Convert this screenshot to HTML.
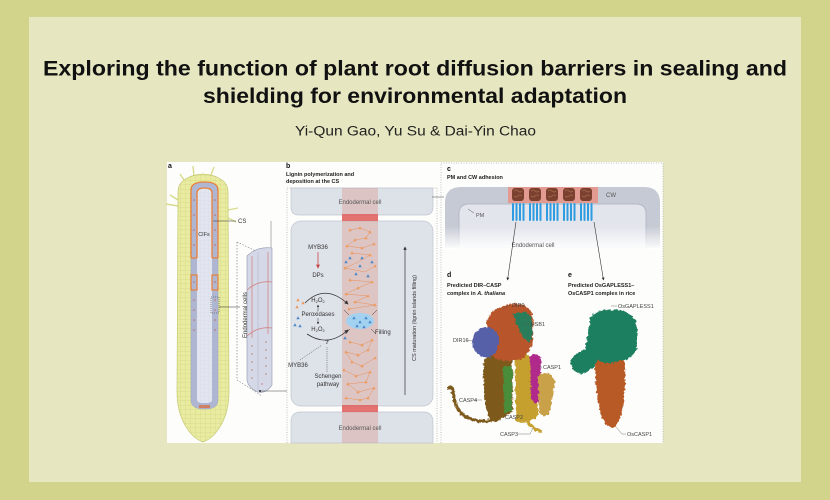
<!DOCTYPE html>
<html><head><meta charset="utf-8"><style>
html,body{margin:0;padding:0;background:#d3d48c;}
svg{display:block}
</style></head><body>
<svg width="830" height="500" viewBox="0 0 830 500" xmlns="http://www.w3.org/2000/svg" font-family="Liberation Sans, Arial, sans-serif">
<defs>
 <pattern id="grid" width="5" height="4.5" patternUnits="userSpaceOnUse">
   <rect width="5" height="4.5" fill="#e8eba0"/>
   <path d="M0,0H5M0,0V4.5" stroke="#cdd078" stroke-width="0.5"/>
 </pattern>
 <pattern id="sgrid" width="4" height="4" patternUnits="userSpaceOnUse">
   <rect width="4" height="4" fill="#e2e5f0"/>
   <path d="M0,0H4M0,0V4" stroke="#d0d4e2" stroke-width="0.4"/>
 </pattern>
 <linearGradient id="fade" x1="0" y1="0" x2="0" y2="1">
   <stop offset="0" stop-color="#ffffff" stop-opacity="0"/><stop offset="1" stop-color="#ffffff" stop-opacity="1"/>
 </linearGradient>
 <filter id="rough" x="-10%" y="-10%" width="120%" height="120%">
   <feTurbulence type="fractalNoise" baseFrequency="0.35" numOctaves="2" seed="3" result="n"/>
   <feDisplacementMap in="SourceGraphic" in2="n" scale="4" xChannelSelector="R" yChannelSelector="G"/>
 </filter>
 <marker id="ah" viewBox="0 0 6 6" refX="5" refY="3" markerWidth="5" markerHeight="5" orient="auto">
   <path d="M0,0 L6,3 L0,6 Z" fill="#333"/>
 </marker>
 <marker id="ahr" viewBox="0 0 6 6" refX="5" refY="3" markerWidth="5" markerHeight="5" orient="auto">
   <path d="M0,0 L6,3 L0,6 Z" fill="#c84545"/>
 </marker>
 <path id="tri" d="M0,-1.8 L1.7,1.2 L-1.7,1.2 Z"/>
</defs>

<rect width="830" height="500" fill="#d3d48c"/>
<rect x="29" y="17" width="772" height="465" fill="#e6e6c0"/>

<text x="43" y="75.5" font-size="21" font-weight="bold" fill="#111" textLength="744" lengthAdjust="spacingAndGlyphs">Exploring the function of plant root diffusion barriers in sealing and</text>
<text x="203" y="103" font-size="21" font-weight="bold" fill="#111" textLength="424" lengthAdjust="spacingAndGlyphs">shielding for environmental adaptation</text>
<text x="295" y="135.5" font-size="13.5" fill="#222" textLength="241" lengthAdjust="spacingAndGlyphs">Yi-Qun Gao, Yu Su &amp; Dai-Yin Chao</text>

<!-- figure -->
<rect x="167" y="162" width="496" height="281" fill="#fdfdfc"/>

<!-- panel a -->
<text x="168" y="168" font-size="7" font-weight="bold" fill="#111">a</text>
<path d="M178,206 L166,204 M178,200 L170,195 M228,210 L238,208 M228,218 L236,222 M194,176 L193,166 M211,175 L214,167 M184,180 L180,174" stroke="#d8db8c" stroke-width="1.4" fill="none"/>
<path d="M178,192 C178,180 190,175 203,174 C216,175 228,180 228,192 L229,392 C229,420 215,438 203,442 C191,438 177,420 177,392 Z" fill="url(#grid)" stroke="#c4c870" stroke-width="0.7"/>
<path d="M191,190 C191,184 196,182 204.5,182 C213,182 218,184 218,190 L218,400 C218,406 214,409 204.5,409 C195,409 191,406 191,400 Z" fill="#aeb6d2" stroke="#9aa2c0" stroke-width="0.5"/>
<path d="M197,193 Q197,188 204.5,188 Q212,188 212,193 L212,400 Q212,403 204.5,403 Q197,403 197,400 Z" fill="url(#sgrid)"/>
<path d="M191,258 L191,190 C191,184 196,182 204.5,182 C213,182 218,184 218,190 L218,258 M197,258 L197,193 Q197,188 204.5,188 Q212,188 212,193 L212,258 M191,258 H197 M212,258 H218" stroke="#e8803a" stroke-width="1.3" fill="none"/>
<rect x="191" y="275" width="6" height="15" fill="none" stroke="#e8803a" stroke-width="1.2"/>
<rect x="212" y="275" width="6" height="15" fill="none" stroke="#e8803a" stroke-width="1.2"/>
<rect x="199" y="405" width="11" height="3" fill="#d08060"/>
<g fill="#c06a6a">
 <circle cx="194" cy="200" r="0.8"/><circle cx="194" cy="215" r="0.8"/><circle cx="194" cy="230" r="0.8"/><circle cx="194" cy="245" r="0.8"/><circle cx="194" cy="282" r="0.8"/><circle cx="194" cy="300" r="0.8"/><circle cx="194" cy="310" r="0.8"/><circle cx="194" cy="320" r="0.8"/><circle cx="194" cy="330" r="0.8"/>
 <circle cx="215" cy="200" r="0.8"/><circle cx="215" cy="215" r="0.8"/><circle cx="215" cy="230" r="0.8"/><circle cx="215" cy="245" r="0.8"/><circle cx="215" cy="282" r="0.8"/><circle cx="215" cy="300" r="0.8"/><circle cx="215" cy="310" r="0.8"/><circle cx="215" cy="320" r="0.8"/><circle cx="215" cy="330" r="0.8"/>
</g>
<text x="204" y="236" font-size="5.5" fill="#333" text-anchor="middle">CIFs</text>
<line x1="213" y1="221" x2="236" y2="221" stroke="#333" stroke-width="0.5"/>
<text x="238" y="223" font-size="6" fill="#333">CS</text>
<rect x="211" y="297" width="8" height="16" fill="none" stroke="#333" stroke-width="0.5" stroke-dasharray="1,1"/>
<line x1="219" y1="307" x2="240" y2="307" stroke="#333" stroke-width="0.5"/>
<path d="M237,242 L237,380 L262,396 M237,242 L258,252" stroke="#555" stroke-width="0.5" stroke-dasharray="1.5,1.5" fill="none"/>
<line x1="271" y1="221" x2="271" y2="248" stroke="#666" stroke-width="0.5"/>
<path d="M247,256 Q257,246 272,248 L272,385 Q266,394 258,392 Q248,388 247,380 Z" fill="#d5d9e7" stroke="#8f96ae" stroke-width="0.6"/>
<line x1="258" y1="252" x2="258" y2="391" stroke="#b0b6c8" stroke-width="0.6"/>
<path d="M247,290 Q258,280 272,282 M247,336 Q258,326 272,328 M252,256 V338 M268,252 V334" stroke="#d08585" stroke-width="0.8" fill="none"/>
<g fill="#c07070">
 <circle cx="252" cy="346" r="0.7"/><circle cx="252" cy="354" r="0.7"/><circle cx="252" cy="362" r="0.7"/><circle cx="252" cy="370" r="0.7"/><circle cx="252" cy="378" r="0.7"/>
 <circle cx="266" cy="342" r="0.7"/><circle cx="266" cy="350" r="0.7"/><circle cx="266" cy="358" r="0.7"/><circle cx="266" cy="366" r="0.7"/><circle cx="266" cy="374" r="0.7"/><circle cx="262" cy="384" r="0.7"/>
</g>
<text x="247" y="315" font-size="6" fill="#333" text-anchor="middle" transform="rotate(-90 247 315)">Endodermal cells</text>
<line x1="260" y1="391" x2="287" y2="391" stroke="#444" stroke-width="0.5"/>
<circle cx="260" cy="391" r="1" fill="#222"/>

<!-- panel b -->
<text x="286" y="168" font-size="7" font-weight="bold" fill="#111">b</text>
<text x="286" y="176" font-size="5.5" font-weight="bold" fill="#222">Lignin polymerization and</text>
<text x="286" y="183" font-size="5.5" font-weight="bold" fill="#222">deposition at the CS</text>
<path d="M287,443 V188 H437 V443" stroke="#aaa" stroke-width="0.7" stroke-dasharray="1,1.5" fill="none"/>
<path d="M291,188 H433 V207 Q433,215 425,215 H299 Q291,215 291,207 Z" fill="#dde1e8" stroke="#c0c5cf" stroke-width="0.7"/>
<rect x="291" y="221" width="142" height="185" rx="10" fill="#dee2e9" stroke="#c0c5cf" stroke-width="0.7"/>
<path d="M291,443 V422 Q291,412 301,412 H423 Q433,412 433,422 V443 Z" fill="#dde1e8" stroke="#c0c5cf" stroke-width="0.7"/>
<rect x="342" y="188" width="36" height="255" fill="#d9806f" opacity="0.3"/>
<rect x="342" y="214" width="36" height="7" fill="#e06060" opacity="0.85"/>
<rect x="342" y="405" width="36" height="7" fill="#e06060" opacity="0.85"/>
<text x="360" y="204" font-size="6" fill="#555" text-anchor="middle">Endodermal cell</text>
<text x="360" y="430" font-size="6" fill="#555" text-anchor="middle">Endodermal cell</text>

<g stroke="#e8915a" stroke-width="0.5" fill="none">
 <polyline points="350,230 360,228 370,232 366,238 355,240 347,246 362,248 374,244"/>
 <polyline points="352,253 370,255 358,262 345,268 365,272 375,266"/>
 <polyline points="350,280 372,282 358,288 346,294 368,296 355,302 375,305 349,309"/>
 <polyline points="350,342 362,345 372,340 368,350 358,355 346,352 352,362 362,366 375,358"/>
 <polyline points="344,370 356,376 370,372 366,382 348,384 358,392 374,388 368,398 360,400 346,398"/>
</g>
<g fill="#ee9a5c">
 <use href="#tri" x="350" y="230"/><use href="#tri" x="360" y="228"/><use href="#tri" x="370" y="232"/><use href="#tri" x="366" y="238"/><use href="#tri" x="355" y="240"/><use href="#tri" x="347" y="246"/><use href="#tri" x="374" y="244"/><use href="#tri" x="362" y="248"/><use href="#tri" x="352" y="253"/><use href="#tri" x="370" y="255"/><use href="#tri" x="345" y="268"/><use href="#tri" x="375" y="266"/><use href="#tri" x="350" y="280"/><use href="#tri" x="372" y="282"/><use href="#tri" x="358" y="288"/><use href="#tri" x="346" y="294"/><use href="#tri" x="368" y="296"/><use href="#tri" x="355" y="302"/><use href="#tri" x="375" y="305"/><use href="#tri" x="349" y="309"/>
 <use href="#tri" x="350" y="342"/><use href="#tri" x="362" y="345"/><use href="#tri" x="372" y="340"/><use href="#tri" x="346" y="352"/><use href="#tri" x="358" y="355"/><use href="#tri" x="368" y="350"/><use href="#tri" x="375" y="358"/><use href="#tri" x="352" y="362"/><use href="#tri" x="362" y="366"/><use href="#tri" x="344" y="370"/><use href="#tri" x="370" y="372"/><use href="#tri" x="356" y="376"/><use href="#tri" x="366" y="382"/><use href="#tri" x="348" y="384"/><use href="#tri" x="374" y="388"/><use href="#tri" x="358" y="392"/><use href="#tri" x="346" y="398"/><use href="#tri" x="368" y="398"/><use href="#tri" x="360" y="400"/>
 <use href="#tri" x="298" y="300"/><use href="#tri" x="297" y="307"/><use href="#tri" x="303" y="303"/>
</g>
<ellipse cx="360" cy="321" rx="14" ry="8" fill="#9fd3f2" opacity="0.95"/>
<g fill="#4a88c8">
 <use href="#tri" x="350" y="258"/><use href="#tri" x="360" y="266"/><use href="#tri" x="356" y="274"/><use href="#tri" x="368" y="276"/><use href="#tri" x="346" y="262"/><use href="#tri" x="372" y="262"/><use href="#tri" x="362" y="258"/>
 <use href="#tri" x="354" y="318"/><use href="#tri" x="360" y="322"/><use href="#tri" x="366" y="318"/><use href="#tri" x="357" y="326"/><use href="#tri" x="364" y="327"/><use href="#tri" x="370" y="322"/>
 <use href="#tri" x="345" y="338"/><use href="#tri" x="298" y="318"/><use href="#tri" x="300" y="326"/><use href="#tri" x="295" y="325"/>
</g>
<g stroke="#333" stroke-width="0.5">
 <line x1="344" y1="310" x2="349" y2="315"/><line x1="377" y1="310" x2="372" y2="315"/><line x1="345" y1="334" x2="350" y2="329"/><line x1="376" y1="334" x2="371" y2="329"/>
</g>
<g font-size="6" fill="#333" text-anchor="middle">
 <text x="318" y="249">MYB36</text>
 <text x="318" y="277">DPs</text>
 <text x="318" y="302">H<tspan font-size="4" dy="1">2</tspan><tspan dy="-1">O</tspan><tspan font-size="4" dy="1">2</tspan></text>
 <text x="318" y="316">Peroxidases</text>
 <text x="318" y="331">H<tspan font-size="4" dy="1">2</tspan><tspan dy="-1">O</tspan><tspan font-size="4" dy="1">2</tspan></text>
 <text x="327" y="344" font-weight="bold">?</text>
 <text x="298" y="367">MYB36</text>
 <text x="328" y="378">Schengen</text>
 <text x="328" y="386">pathway</text>
</g>
<text x="375" y="334" font-size="6" fill="#333">Filling</text>
<line x1="318" y1="252" x2="318" y2="268" stroke="#c84545" stroke-width="0.8" marker-end="url(#ahr)"/>
<line x1="318" y1="311" x2="318" y2="305" stroke="#333" stroke-width="0.5" marker-end="url(#ah)"/>
<line x1="318" y1="318" x2="318" y2="324" stroke="#333" stroke-width="0.5" marker-end="url(#ah)"/>
<path d="M305,303 Q325,283 348,304" stroke="#333" stroke-width="0.8" fill="none" marker-end="url(#ah)"/>
<path d="M307,334 Q328,348 348,330" stroke="#333" stroke-width="0.8" fill="none" marker-end="url(#ah)"/>
<path d="M300,360 L322,345 M327,372 L327,347" stroke="#444" stroke-width="0.5" stroke-dasharray="1.2,1" fill="none"/>
<line x1="405" y1="395" x2="405" y2="247" stroke="#333" stroke-width="0.7" marker-end="url(#ah)"/>
<text x="416" y="318" font-size="5.5" fill="#333" text-anchor="middle" transform="rotate(-90 416 318)">CS maturation (lignin islands filling)</text>
<line x1="432" y1="197" x2="444" y2="197" stroke="#444" stroke-width="0.5"/>

<!-- panel c -->
<path d="M441,443 V163 H663 V443" stroke="#aaa" stroke-width="0.7" stroke-dasharray="1,1.5" fill="none"/>
<text x="447" y="171" font-size="7" font-weight="bold" fill="#111">c</text>
<text x="447" y="179" font-size="5.5" font-weight="bold" fill="#222">PM and CW adhesion</text>
<path d="M445,248 V203 Q445,187 461,187 H644 Q660,187 660,203 V248 Z" fill="#c6cad4"/>
<path d="M459,248 V214 Q459,204 469,204 H636 Q646,204 646,214 V248 Z" fill="#e3e5ec" stroke="#b4b9c5" stroke-width="1"/>
<rect x="443" y="226" width="219" height="24" fill="url(#fade)"/>
<rect x="508" y="187" width="90" height="16" fill="#e39a90"/>
<g>
 <g transform="translate(518,0)"><rect x="-6" y="188" width="12" height="13" rx="3" fill="#7a4030"/><path d="M-4,191 q2,-2 4,0 q2,2 4,0 M-4,196 q2,2 4,0 q2,-2 4,0" stroke="#b07050" stroke-width="0.6" fill="none"/><rect x="-6" y="203" width="2" height="18" rx="1" fill="#2f9be0"/><rect x="-2.5" y="203" width="2" height="18" rx="1" fill="#2f9be0"/><rect x="1" y="203" width="2" height="18" rx="1" fill="#2f9be0"/><rect x="4.5" y="203" width="2" height="18" rx="1" fill="#2f9be0"/></g>
 <g transform="translate(535,0)"><rect x="-6" y="188" width="12" height="13" rx="3" fill="#7a4030"/><path d="M-4,191 q2,-2 4,0 q2,2 4,0 M-4,196 q2,2 4,0 q2,-2 4,0" stroke="#b07050" stroke-width="0.6" fill="none"/><rect x="-6" y="203" width="2" height="18" rx="1" fill="#2f9be0"/><rect x="-2.5" y="203" width="2" height="18" rx="1" fill="#2f9be0"/><rect x="1" y="203" width="2" height="18" rx="1" fill="#2f9be0"/><rect x="4.5" y="203" width="2" height="18" rx="1" fill="#2f9be0"/></g>
 <g transform="translate(552,0)"><rect x="-6" y="188" width="12" height="13" rx="3" fill="#7a4030"/><path d="M-4,191 q2,-2 4,0 q2,2 4,0 M-4,196 q2,2 4,0 q2,-2 4,0" stroke="#b07050" stroke-width="0.6" fill="none"/><rect x="-6" y="203" width="2" height="18" rx="1" fill="#2f9be0"/><rect x="-2.5" y="203" width="2" height="18" rx="1" fill="#2f9be0"/><rect x="1" y="203" width="2" height="18" rx="1" fill="#2f9be0"/><rect x="4.5" y="203" width="2" height="18" rx="1" fill="#2f9be0"/></g>
 <g transform="translate(569,0)"><rect x="-6" y="188" width="12" height="13" rx="3" fill="#7a4030"/><path d="M-4,191 q2,-2 4,0 q2,2 4,0 M-4,196 q2,2 4,0 q2,-2 4,0" stroke="#b07050" stroke-width="0.6" fill="none"/><rect x="-6" y="203" width="2" height="18" rx="1" fill="#2f9be0"/><rect x="-2.5" y="203" width="2" height="18" rx="1" fill="#2f9be0"/><rect x="1" y="203" width="2" height="18" rx="1" fill="#2f9be0"/><rect x="4.5" y="203" width="2" height="18" rx="1" fill="#2f9be0"/></g>
 <g transform="translate(586,0)"><rect x="-6" y="188" width="12" height="13" rx="3" fill="#7a4030"/><path d="M-4,191 q2,-2 4,0 q2,2 4,0 M-4,196 q2,2 4,0 q2,-2 4,0" stroke="#b07050" stroke-width="0.6" fill="none"/><rect x="-6" y="203" width="2" height="18" rx="1" fill="#2f9be0"/><rect x="-2.5" y="203" width="2" height="18" rx="1" fill="#2f9be0"/><rect x="1" y="203" width="2" height="18" rx="1" fill="#2f9be0"/><rect x="4.5" y="203" width="2" height="18" rx="1" fill="#2f9be0"/></g>
</g>
<text x="606" y="197" font-size="6" fill="#555">CW</text>
<line x1="468" y1="209" x2="474" y2="213" stroke="#555" stroke-width="0.5"/>
<text x="476" y="217" font-size="5.5" fill="#555">PM</text>
<text x="533" y="247" font-size="6" fill="#555" text-anchor="middle">Endodermal cell</text>
<line x1="516" y1="222" x2="507.5" y2="280" stroke="#333" stroke-width="0.6" marker-end="url(#ah)"/>
<line x1="594" y1="222" x2="603.5" y2="280" stroke="#333" stroke-width="0.6" marker-end="url(#ah)"/>

<!-- panel d -->
<text x="447" y="277" font-size="7" font-weight="bold" fill="#111">d</text>
<text x="447" y="287" font-size="5.5" font-weight="bold" fill="#222">Predicted DIR–CASP</text>
<text x="447" y="295" font-size="5.5" font-weight="bold" fill="#222">complex in <tspan font-style="italic">A. thaliana</tspan></text>
<g filter="url(#rough)">
<path d="M500,418 Q478,426 462,414 Q453,404 453,390 Q452,386 449,388" stroke="#7d5a1c" stroke-width="3.2" fill="none" stroke-linecap="round"/>
<path d="M484,360 Q495,350 512,354 L513,410 Q502,422 490,419 Q481,400 484,360 Z" fill="#7d5a1c"/>
<path d="M503,366 L512,366 L512,411 L504,413 Z" fill="#4a8d3b"/>
<path d="M515,358 Q526,352 537,358 L538,415 Q528,426 516,421 Z" fill="#c6a02f"/>
<path d="M530,356 Q537,352 541,358 L540,400 Q535,407 531,398 Z" fill="#b02a8b"/>
<path d="M538,376 Q551,368 555,382 Q553,398 549,414 Q541,420 539,410 Z" fill="#c9a14a"/>
<path d="M520,410 Q528,428 542,432" stroke="#c6a02f" stroke-width="3" fill="none"/>
<path d="M487,322 Q490,309 505,306 Q518,300 527,307 Q535,312 533,330 Q534,348 524,358 Q508,364 494,358 Q485,345 487,322 Z" fill="#b8552a"/>
<path d="M513,314 Q524,310 531,316 Q535,330 530,343 Q522,338 518,328 Z" fill="#2b7d5a"/>
<path d="M472,342 Q474,329 486,327 Q498,328 499,342 Q497,356 486,358 Q473,354 472,342 Z" fill="#5761a9"/>
</g>
<g stroke="#555" stroke-width="0.4" fill="none">
 <path d="M510,305 L503,309"/><path d="M524,324 L530,324"/><path d="M466,340 L473,341"/><path d="M542,367 L538,367"/><path d="M474,400 L482,400"/><path d="M518,434 L530,434 L533,428"/>
</g>
<g font-size="5.5" fill="#444">
 <text x="512" y="307">DIR9</text>
 <text x="531" y="326">ESB1</text>
 <text x="453" y="342">DIR16</text>
 <text x="543" y="369">CASP1</text>
 <text x="459" y="402">CASP4</text>
 <text x="505" y="419">CASP2</text>
 <text x="500" y="436">CASP3</text>
</g>

<!-- panel e -->
<text x="568" y="277" font-size="7" font-weight="bold" fill="#111">e</text>
<text x="568" y="287" font-size="5.5" font-weight="bold" fill="#222">Predicted OsGAPLESS1–</text>
<text x="568" y="295" font-size="5.5" font-weight="bold" fill="#222">OsCASP1 complex in rice</text>
<g filter="url(#rough)">
<path d="M595,355 Q610,350 624,356 Q627,380 623,405 Q620,425 612,428 Q603,426 600,410 Q594,385 595,355 Z" fill="#b85a28"/>
<path d="M590,318 Q598,308 612,310 Q628,309 635,320 Q640,335 636,350 Q630,362 620,360 Q608,366 598,360 Q592,372 582,374 Q572,372 570,362 Q574,352 585,350 Q588,335 590,318 Z" fill="#1f7f5f"/>
</g>
<g stroke="#555" stroke-width="0.4" fill="none"><path d="M611,306 L617,306"/><path d="M616,427 L622,434 L626,434"/></g>
<text x="618" y="308" font-size="5.5" fill="#444">OsGAPLESS1</text>
<text x="627" y="436" font-size="5.5" fill="#444">OsCASP1</text>
</svg>
</body></html>
